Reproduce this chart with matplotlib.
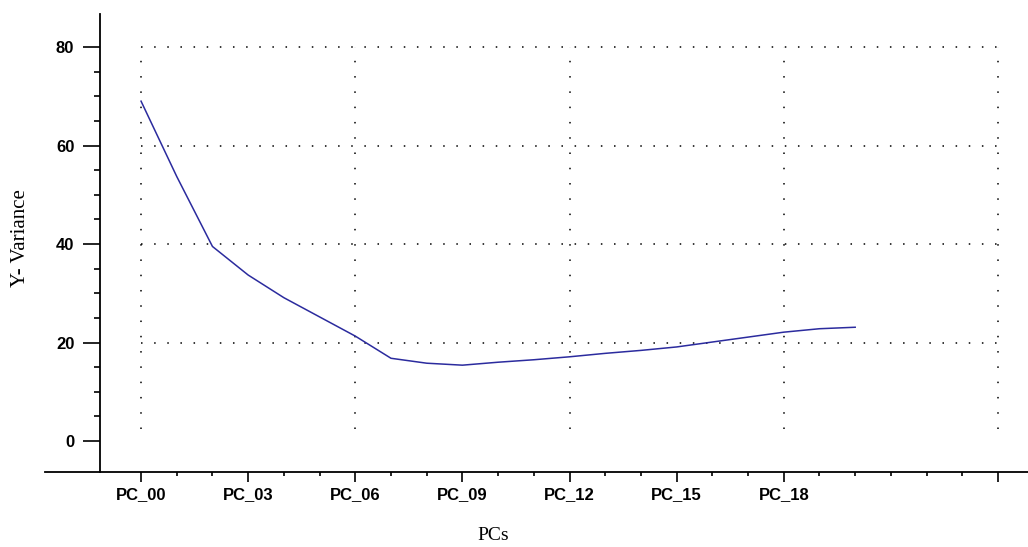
import matplotlib.pyplot as plt
import numpy as np

# explained Y variance per principal component
pcs = list(range(21))
y_variance = [69.0, 53.7, 39.5, 33.7, 29.1, 25.2, 21.3, 16.8, 15.8, 15.4, 16.0,
              16.5, 17.1, 17.8, 18.4, 19.1, 20.1, 21.1, 22.1, 22.8, 23.1]

x_major = [0, 3, 6, 9, 12, 15, 18, 24]
x_labels = ["PC_00", "PC_03", "PC_06", "PC_09", "PC_12", "PC_15", "PC_18", ""]
y_major = [0, 20, 40, 60, 80]

W, H = 1028, 547
fig = plt.figure(figsize=(W / 100, H / 100), dpi=100)
ax = fig.add_axes([45 / W, (H - 472) / H, (1028 - 45) / W, (472 - 14) / H])

ax.set_xlim(-2.69, 24.84)
ax.set_ylim(-6.29, 86.7)

# dotted grid, drawn by hand so it stops short of the axes
for gx in [0, 6, 12, 18, 24]:
	ax.vlines(gx, 2.5, 80, colors="black", linestyles=(0, (1, 9)), linewidth=1.1)
for gy in [20, 40, 60, 80]:
	ax.hlines(gy, 0, 24, colors="black", linestyles=(0, (1, 7.6)), linewidth=1.1)

ax.plot(pcs, y_variance, color="#2b2b9e", linewidth=1.1)

for s in ["top", "right"]:
	ax.spines[s].set_visible(False)
ax.spines["left"].set_position(("data", -1.148))
ax.spines["left"].set_linewidth(1.3)
ax.spines["bottom"].set_linewidth(1.3)

ax.set_xticks(x_major)
ax.set_xticklabels(x_labels, fontsize=12, fontweight="bold", family="Liberation Sans")
ax.set_xticks(range(1, 24), minor=True)
ax.set_yticks(y_major)
ax.set_yticklabels([str(v) for v in y_major], fontsize=12, fontweight="bold", family="Liberation Sans")
ax.set_yticks(range(5, 80, 5), minor=True)

ax.tick_params(axis="x", which="major", direction="out", length=7.5, width=1.2, pad=3)
ax.tick_params(axis="x", which="minor", direction="out", length=3, width=1.2)
ax.tick_params(axis="y", which="major", direction="out", length=12.5, width=1.2, pad=6)
ax.tick_params(axis="y", which="minor", direction="out", length=4.5, width=1.2)

fig.text(21 / W, 1 - 238 / H, "Y- Variance", rotation=90, ha="center", va="center",
	fontsize=15, family="Liberation Serif")
fig.text(493 / W, 1 - 535 / H, "PCs", ha="center", va="center",
	fontsize=14, family="Liberation Serif")

fig.savefig("out.png", dpi=100)
